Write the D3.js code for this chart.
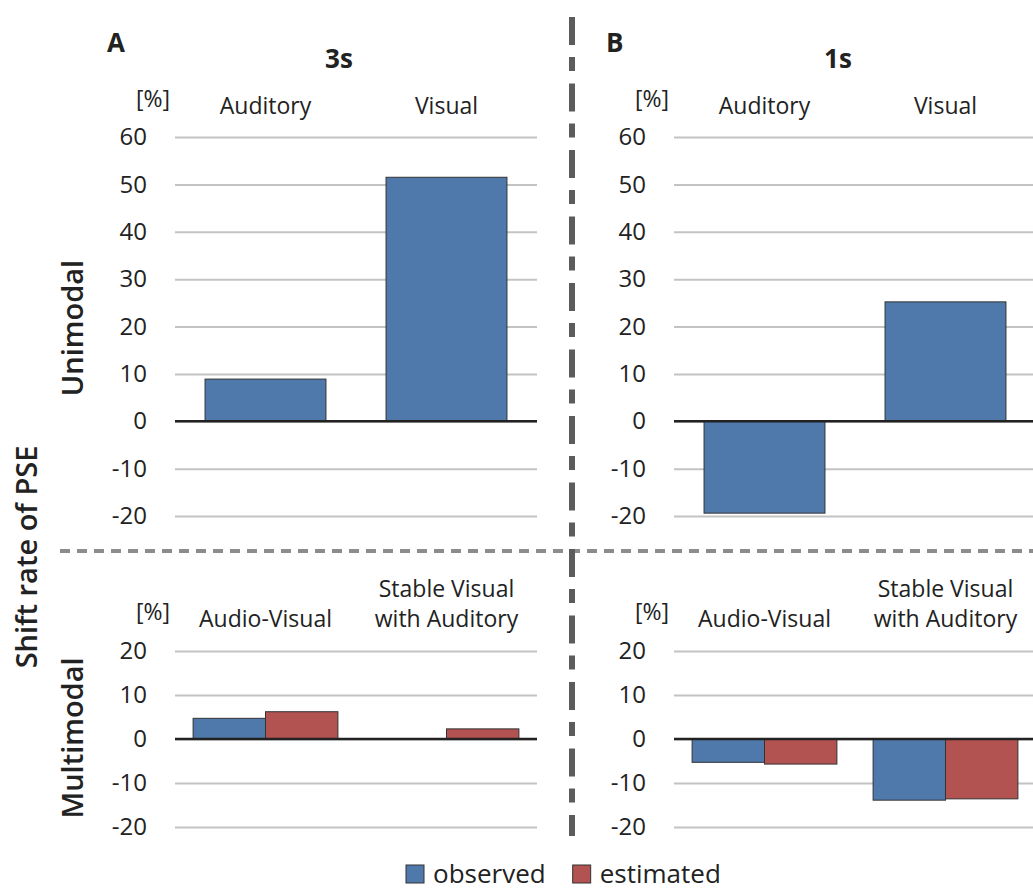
<!DOCTYPE html>
<html>
<head>
<meta charset="utf-8">
<script src="https://cdn.jsdelivr.net/npm/d3@7"></script>
<style>
  body { margin: 0; background: #fff; }
  svg text { font-family: "Open Sans", sans-serif; fill: #222; }
</style>
</head>
<body>
<svg id="chart" width="1033" height="890"></svg>
<script>
// values
const uniCategories = ["Auditory", "Visual"];
const multiCategories = ["Audio-Visual", "Stable Visual|with Auditory"];
const seriesNames = ["observed", "estimated"];
const seriesColors = ["#4f79ab", "#b35351"];

const uni3s = [8.9, 51.5];
const uni1s = [-19.4, 25.2];
const multi3sObserved = [4.7, 0];
const multi3sEstimated = [6.2, 2.3];
const multi1sObserved = [-5.3, -13.9];
const multi1sEstimated = [-5.7, -13.6];

const uniTicks = [-20, -10, 0, 10, 20, 30, 40, 50, 60];
const multiTicks = [-20, -10, 0, 10, 20];

const svg = d3.select("#chart");

const cols = [{left: 175, right: 537}, {left: 674, right: 1036}];
const uniY = d3.scaleLinear().domain([-20, 60]).range([516, 137]);
const multiY = d3.scaleLinear().domain([-20, 20]).range([827, 651]);

function drawAxis(g, y, ticks, width) {
    const ax = g.append("g")
        .call(d3.axisLeft(y).tickValues(ticks).tickSizeInner(-width).tickSizeOuter(0)
              .tickPadding(28).tickFormat(d => String(d)));
    ax.select(".domain").remove();
    ax.selectAll(".tick line").attr("stroke", "#c3c3c3").attr("stroke-width", 2);
    ax.selectAll(".tick text").style("font-size", "24px").attr("fill", "#222");
}

function zeroLine(g, y, width) {
    g.append("line")
        .attr("x1", 0).attr("x2", width)
        .attr("y1", y(0)).attr("y2", y(0))
        .attr("stroke", "#222").attr("stroke-width", 2.5);
}

// top panels: unimodal
[uni3s, uni1s].forEach((vals, i) => {
    const c = cols[i], w = c.right - c.left;
    const g = svg.append("g").attr("transform", `translate(${c.left},0)`);
    const x = d3.scaleBand().domain(uniCategories).range([0, w])
        .paddingInner(0.332).paddingOuter(0.166);
    drawAxis(g, uniY, uniTicks, w);
    g.selectAll("rect.bar").data(vals).enter().append("rect")
        .attr("class", "bar")
        .attr("x", (d, j) => x(uniCategories[j]))
        .attr("width", x.bandwidth())
        .attr("y", d => uniY(Math.max(0, d)))
        .attr("height", d => Math.abs(uniY(d) - uniY(0)))
        .attr("fill", seriesColors[0]).attr("stroke", "#333").attr("stroke-width", 1);
    zeroLine(g, uniY, w);
    g.selectAll("text.cat").data(uniCategories).enter().append("text")
        .attr("class", "cat")
        .attr("x", d => x(d) + x.bandwidth() / 2)
        .attr("y", 114)
        .attr("text-anchor", "middle")
        .style("font-size", "23px")
        .text(d => d);
    g.append("text").attr("x", -5).attr("y", 107).attr("text-anchor", "end")
        .style("font-size", "23px").text("[%]");
});

// bottom panels: multimodal
[[multi3sObserved, multi3sEstimated], [multi1sObserved, multi1sEstimated]].forEach((pair, i) => {
    const c = cols[i], w = c.right - c.left;
    const g = svg.append("g").attr("transform", `translate(${c.left},0)`);
    const x = d3.scaleBand().domain(multiCategories).range([0, w])
        .paddingInner(0.2).paddingOuter(0.1);
    const xs = d3.scaleBand().domain(seriesNames).range([0, x.bandwidth()]);
    drawAxis(g, multiY, multiTicks, w);
    const rows = multiCategories.map((cat, j) => ({cat, vals: pair.map(s => s[j])}));
    const grp = g.selectAll("g.grp").data(rows).enter().append("g")
        .attr("class", "grp")
        .attr("transform", d => `translate(${x(d.cat)},0)`);
    grp.selectAll("rect").data(d => d.vals.map((v, k) => ({k, v}))).enter().append("rect")
        .attr("x", d => xs(seriesNames[d.k]))
        .attr("width", xs.bandwidth())
        .attr("y", d => multiY(Math.max(0, d.v)))
        .attr("height", d => Math.abs(multiY(d.v) - multiY(0)))
        .attr("fill", d => seriesColors[d.k])
        .attr("stroke", "#333").attr("stroke-width", d => d.v === 0 ? 0 : 1);
    zeroLine(g, multiY, w);
    g.selectAll("text.cat").data(multiCategories).enter().append("text")
        .attr("class", "cat")
        .attr("text-anchor", "middle")
        .style("font-size", "23px")
        .each(function(d) {
            const lines = d.split("|");
            const t = d3.select(this);
            lines.forEach((ln, k) => {
                t.append("tspan")
                    .attr("x", x(d) + x.bandwidth() / 2)
                    .attr("y", 627 - (lines.length - 1 - k) * 30)
                    .text(ln);
            });
        });
    g.append("text").attr("x", -5).attr("y", 620).attr("text-anchor", "end")
        .style("font-size", "23px").text("[%]");
});

// panel letters and titles
const titles = [{letter: "A", t: "3s"}, {letter: "B", t: "1s"}];
titles.forEach((d, i) => {
    const c = cols[i];
    svg.append("text").attr("x", c.left - 68).attr("y", 52)
        .style("font-size", "26px").style("font-weight", "bold").text(d.letter);
    svg.append("text").attr("x", (c.left + c.right) / 2 - 17).attr("y", 68)
        .attr("text-anchor", "middle")
        .style("font-size", "26px").style("font-weight", "bold").text(d.t);
});

// separators
svg.append("line").attr("x1", 60).attr("x2", 1033).attr("y1", 551).attr("y2", 551)
    .attr("stroke", "#8c8c8c").attr("stroke-width", 4).attr("stroke-dasharray", "10,7");
svg.append("line").attr("x1", 572).attr("x2", 572).attr("y1", 17).attr("y2", 836)
    .attr("stroke", "#5c5c5c").attr("stroke-width", 6).attr("stroke-dasharray", "28,12,14,12.5");

// left labels
const sideLabels = [
    {text: "Unimodal", x: 83, y: 328},
    {text: "Shift rate of PSE", x: 37, y: 557},
    {text: "Multimodal", x: 83, y: 738}
];
sideLabels.forEach(d => {
    svg.append("text").attr("transform", `translate(${d.x},${d.y}) rotate(-90)`)
        .attr("text-anchor", "middle").style("font-size", "29px").style("font-weight", "600")
        .text(d.text);
});

// legend
const legend = svg.append("g").attr("transform", "translate(406,865)");
let lx = 0;
seriesNames.forEach((s, i) => {
    const item = legend.append("g").attr("transform", `translate(${lx},0)`);
    item.append("rect").attr("width", 18).attr("height", 18)
        .attr("fill", seriesColors[i]).attr("stroke", "#333").attr("stroke-width", 1);
    const t = item.append("text").attr("x", 27).attr("y", 18)
        .style("font-size", "26px").text(s);
    lx += 27 + t.node().getComputedTextLength() + 27;
});
</script>
</body>
</html>
